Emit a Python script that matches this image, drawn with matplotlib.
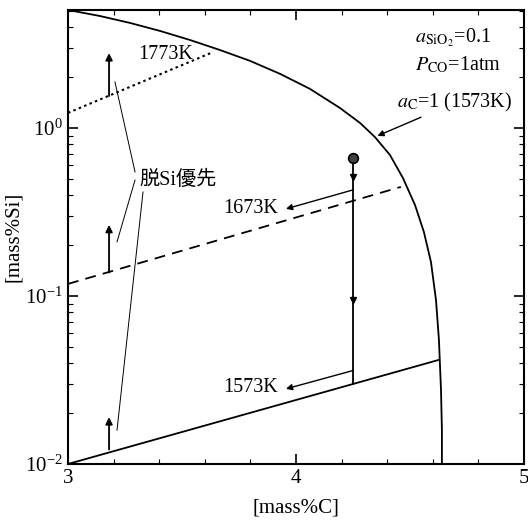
import numpy as np
import matplotlib.pyplot as plt

plt.rcParams['font.family'] = ['Liberation Serif', 'Noto Sans CJK JP']
plt.rcParams['mathtext.fontset'] = 'stix'

# a_C = 1 boundary (1573K)
ac_c = [3.0, 3.140, 3.272, 3.404, 3.535, 3.667, 3.798, 3.930, 4.061, 4.193,
        4.281, 4.346, 4.412, 4.469, 4.522, 4.561, 4.592, 4.614, 4.627, 4.636,
        4.640, 4.640]
ac_si = [5.04, 4.64, 4.22, 3.78, 3.34, 2.91, 2.51, 2.10, 1.71, 1.315,
         1.071, 0.884, 0.691, 0.504, 0.348, 0.2404, 0.1593, 0.0947, 0.0547, 0.0276,
         0.01594, 0.0100]

# equilibrium lines
c1773 = [3.0, 3.636]
si1773 = [1.23, 2.83]
c1673 = [3.0, 4.46]
si1673 = [0.118, 0.446]
c1573 = [3.0, 4.625]
si1573 = [0.0100, 0.0416]

# path of the melt
path_c = 4.25
path_si = [0.66, 0.030]
path_marks = [0.51, 0.095]

# up arrows (desiliconization first)
up_c = 3.18
up_from = [1.55, 0.138, 0.0122]
up_to = [2.79, 0.265, 0.019]

fig = plt.figure(figsize=(5.28, 5.25), dpi=100, facecolor="white")
ax = fig.add_axes([0.1288, 0.1162, 0.8636, 0.8648])

ax.plot(ac_c, ac_si, 'k-', lw=1.3, solid_joinstyle='round')
ax.plot(c1773, si1773, 'k', ls=(0, (1.2, 1.6)), lw=1.5)
ax.plot(c1673, si1673, 'k', ls=(0, (6, 4)), lw=1.3)
ax.plot(c1573, si1573, 'k-', lw=1.3)

ax.plot([path_c, path_c], path_si, 'k-', lw=1.3)
ax.plot([path_c] * 2, path_marks, 'kv', ms=5)
ax.plot(path_c, path_si[0], 'o', ms=7, mfc='0.25', mec='k', mew=1.2)

for a, b in zip(up_from, up_to):
    ax.annotate("", xy=(up_c, b), xytext=(up_c, a),
                arrowprops=dict(arrowstyle='-|>', color='k', lw=1.3,
                                mutation_scale=10, shrinkA=0, shrinkB=0))

# shift arrows
ax.annotate("", xy=(3.956, 0.33), xytext=(4.25, 0.428),
            arrowprops=dict(arrowstyle='-|>', color='k', lw=1.0,
                            mutation_scale=9, shrinkA=0, shrinkB=0))
ax.annotate("", xy=(3.956, 0.028), xytext=(4.25, 0.036),
            arrowprops=dict(arrowstyle='-|>', color='k', lw=1.0,
                            mutation_scale=9, shrinkA=0, shrinkB=0))

ax.text(3.43, 2.72, "1773K", fontsize=14.5, ha='center', va='center')
ax.text(3.8, 0.33, "1673K", fontsize=14.5, ha='center', va='center')
ax.text(3.8, 0.0285, "1573K", fontsize=14.5, ha='center', va='center')

# leader lines to label
ax.plot([3.294, 3.206], [0.547, 1.88], 'k-', lw=0.7)
ax.plot([3.294, 3.215], [0.49, 0.21], 'k-', lw=0.7)
ax.plot([3.329, 3.215], [0.416, 0.0159], 'k-', lw=0.7)
ax.text(3.315, 0.49, "脱Si優先", fontsize=14.5, ha='left', va='center')

ax.text(0.761, 0.938, "$a_{\\mathrm{SiO_2}}$=0.1", transform=ax.transAxes,
        fontsize=14.5, ha='left', va='center')
ax.text(0.761, 0.879, "$P_{\\mathrm{CO}}$=1atm", transform=ax.transAxes,
        fontsize=14.5, ha='left', va='center')
ax.annotate("$a_{\\mathrm{C}}$=1 (1573K)", xy=(4.346, 0.884), xytext=(4.443, 1.41),
            fontsize=14.5, ha='left', va='center',
            arrowprops=dict(arrowstyle='-|>', color='k', lw=1.0,
                            mutation_scale=9, shrinkA=0, shrinkB=2))

ax.set_yscale('log')
ax.set_xlim(3, 5)
ax.set_ylim(0.01, 5.04)
ax.set_xticks([3, 4, 5])
ax.set_xticks(np.arange(3, 5.01, 0.2), minor=True)
ax.tick_params(which='both', direction='in', top=True, right=True, labelsize=15)
ax.tick_params(which='major', length=7, width=1.2)
ax.tick_params(which='minor', length=3.5, width=0.8)
for s in ax.spines.values():
    s.set_linewidth(1.5)

ax.set_xlabel("[mass%C]", fontsize=15, labelpad=8)
ax.set_ylabel("[mass%Si]", fontsize=15, labelpad=2)

plt.savefig("out.png", dpi=100)
